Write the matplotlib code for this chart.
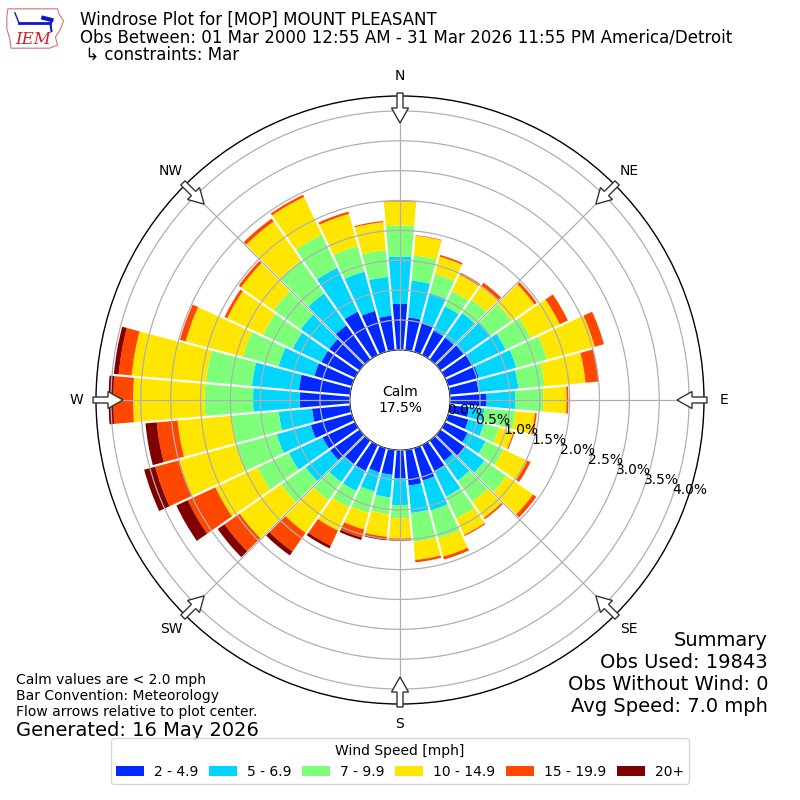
import numpy as np
import matplotlib.pyplot as plt
from matplotlib.patches import Circle, FancyArrow, Rectangle, Polygon

# direction bins (degrees, meteorological) and percent frequency per speed bin
directions = list(range(0, 360, 10))
speed_labels = ["2 - 4.9", "5 - 6.9", "7 - 9.9", "10 - 14.9", "15 - 19.9", "20+"]

s2_5 = [0.77, 0.55, 0.50, 0.45, 0.45, 0.47, 0.50, 0.53, 0.48, 0.61,
        0.32, 0.35, 0.42, 0.50, 0.42, 0.48, 0.56, 0.60, 0.47, 0.42,
        0.42, 0.48, 0.48, 0.60, 0.60, 0.71, 0.64, 0.84, 0.86, 0.65,
        0.62, 0.62, 0.70, 0.80, 0.71, 0.58]
s5_7 = [0.79, 0.62, 0.52, 0.45, 0.50, 0.55, 0.62, 0.65, 0.67, 0.48,
        0.26, 0.27, 0.33, 0.40, 0.40, 0.47, 0.52, 0.46, 0.45, 0.38,
        0.33, 0.37, 0.37, 0.50, 0.62, 0.59, 0.56, 0.78, 0.79, 0.62,
        0.53, 0.58, 0.65, 0.81, 0.68, 0.65]
s7_10 = [0.52, 0.42, 0.33, 0.28, 0.27, 0.43, 0.46, 0.53, 0.44, 0.47,
         0.52, 0.26, 0.33, 0.45, 0.43, 0.40, 0.48, 0.48, 0.22, 0.28,
         0.37, 0.30, 0.37, 0.50, 0.58, 0.71, 0.79, 0.81, 0.77, 0.62,
         0.55, 0.55, 0.67, 0.61, 0.44, 0.45]
s10_15 = [0.40, 0.33, 0.30, 0.30, 0.29, 0.47, 0.54, 0.83, 0.69, 0.39,
          0.33, 0.25, 0.44, 0.54, 0.33, 0.31, 0.32, 0.31, 0.34, 0.38,
          0.29, 0.43, 0.67, 0.85, 0.78, 0.98, 0.91, 1.20, 1.25, 0.99,
          0.66, 0.67, 0.80, 0.70, 0.56, 0.47]
s15_20 = [0.01, 0.01, 0.03, 0.04, 0.06, 0.05, 0.15, 0.16, 0.22, 0.03,
          0.03, 0.02, 0.06, 0.07, 0.03, 0.02, 0.05, 0.04, 0.04, 0.04,
          0.14, 0.28, 0.38, 0.31, 0.51, 0.42, 0.35, 0.33, 0.22, 0.10,
          0.05, 0.05, 0.06, 0.04, 0.04, 0.02]
s20p = [0.00, 0.00, 0.00, 0.00, 0.00, 0.00, 0.00, 0.00, 0.00, 0.00,
        0.00, 0.00, 0.00, 0.00, 0.00, 0.00, 0.00, 0.00, 0.00, 0.02,
        0.04, 0.05, 0.08, 0.14, 0.21, 0.19, 0.19, 0.08, 0.08, 0.00,
        0.00, 0.00, 0.00, 0.00, 0.00, 0.00]
series = [s2_5, s5_7, s7_10, s10_15, s15_20, s20p]
colors = plt.cm.jet(np.linspace(0, 1, 7))[1:]

calm_pct = 17.5
rticks = [0.0, 0.5, 1.0, 1.5, 2.0, 2.5, 3.0, 3.5, 4.0]
compass = ["N", "NE", "E", "SE", "S", "SW", "W", "NW"]

fig = plt.figure(figsize=(8, 8), dpi=100)
ax = fig.add_axes([0.12, 0.12, 0.76, 0.76], projection="polar")
ax.set_theta_zero_location("N")
ax.set_theta_direction(-1)

theta = np.deg2rad(directions)
base = np.zeros(len(directions))
for vals, col in zip(series, colors):
    vals = np.array(vals)
    ax.bar(theta, vals, width=np.deg2rad(10), bottom=base, color=col,
           linewidth=0, align="center", zorder=1)
    base = base + vals

# white gaps between the sectors
for d in directions:
    t = np.deg2rad(d + 5)
    ax.plot([t, t], [0, 4.2], color="white", lw=1.6, zorder=2,
            solid_capstyle="butt")

ax.set_rorigin(-0.84)
ax.set_ylim(0, 4.25)
ax.set_yticks(rticks)
ax.set_yticklabels([])
ax.set_xticks(np.deg2rad(np.arange(0, 360, 45)))
ax.set_xticklabels([])
ax.set_axisbelow(False)
ax.grid(True, color="#b0b0b0", lw=0.9)
ax.spines["polar"].set_linewidth(1.0)
ax.spines["inner"].set_visible(False)

for r in rticks:
    ax.text(np.deg2rad(109.6), r, f"{r:.1f}%", ha="left", va="bottom",
            fontsize=10, zorder=6)

# calm circle
ax.add_patch(Circle((0.5, 0.5), 49 / 608, transform=ax.transAxes,
                    facecolor="white", edgecolor="black", lw=1, zorder=5))
ax.text(0.5, 0.5, f"Calm\n{calm_pct}%", transform=ax.transAxes,
        ha="center", va="center", fontsize=10, zorder=6)

# compass labels and inward flow arrows
for i, lab in enumerate(compass):
    a = np.deg2rad(i * 45)
    fig.text(0.5 + 324 * np.sin(a) / 800, 0.5 + 324 * np.cos(a) / 800, lab,
             ha="center", va="center", fontsize=10)
    x0 = 0.5 + 307 * np.sin(a) / 800
    y0 = 0.5 + 307 * np.cos(a) / 800
    arr = FancyArrow(x0, y0, -30 * np.sin(a) / 800, -30 * np.cos(a) / 800,
                     width=6 / 800, head_width=17 / 800, head_length=15 / 800,
                     length_includes_head=True, transform=fig.transFigure,
                     facecolor="white", edgecolor="#333333", lw=1, zorder=10)
    fig.add_artist(arr)

# header
fig.text(0.1, 1 - 20 / 800, "Windrose Plot for [MOP] MOUNT PLEASANT",
         fontsize=12, va="center")
fig.text(0.1, 1 - 38 / 800,
         "Obs Between: 01 Mar 2000 12:55 AM - 31 Mar 2026 11:55 PM America/Detroit",
         fontsize=12, va="center")
fig.text(0.1, 1 - 55 / 800, " \u21b3 constraints: Mar", fontsize=12,
         va="center")

# logo
lax = fig.add_axes([0.006, 0.936, 0.076, 0.058])
lax.set_xlim(0, 60)
lax.set_ylim(0, 46)
lax.axis("off")
lax.add_patch(Polygon([(3, 42), (52, 42), (54, 36), (58, 30), (55, 22),
                       (50, 14), (52, 6), (44, 3), (6, 3), (5, 12), (2, 22),
                       (2, 34)], closed=True, fill=False,
                      edgecolor="#e07070", lw=0.8))
lax.plot([14, 45], [28, 28], color="#1515c8", lw=2)
lax.plot([14, 10], [28, 38], color="#1515c8", lw=1)
lax.plot([38, 46], [33, 31], color="#1515c8", lw=3)
lax.plot([45, 46], [28, 20], color="#1515c8", lw=1.5)
lax.text(28, 12, "IEM", color="#d02020", fontsize=12, style="italic",
         family="DejaVu Serif", ha="center", va="center")

# notes
fig.text(16 / 800, 1 - 680 / 800, "Calm values are < 2.0 mph", fontsize=10,
         va="center")
fig.text(16 / 800, 1 - 696 / 800, "Bar Convention: Meteorology", fontsize=10,
         va="center")
fig.text(16 / 800, 1 - 712 / 800, "Flow arrows relative to plot center.",
         fontsize=10, va="center")
fig.text(16 / 800, 1 - 730 / 800, "Generated: 16 May 2026", fontsize=14,
         va="center")

summary = ["Summary", "Obs Used: 19843", "Obs Without Wind: 0",
           "Avg Speed: 7.0 mph"]
for k, line in enumerate(summary):
    fig.text(768 / 800, 1 - (640 + 22 * k) / 800, line, fontsize=14,
             ha="right", va="center")

handles = [Rectangle((0, 0), 1, 1, facecolor=c) for c in colors]
fig.legend(handles, speed_labels, loc="lower center",
           bbox_to_anchor=(0.5, 0.011), ncol=6, title="Wind Speed [mph]",
           fontsize=10, title_fontsize=10, columnspacing=0.8,
           handletextpad=0.7)

fig.savefig("out.png", dpi=100)
